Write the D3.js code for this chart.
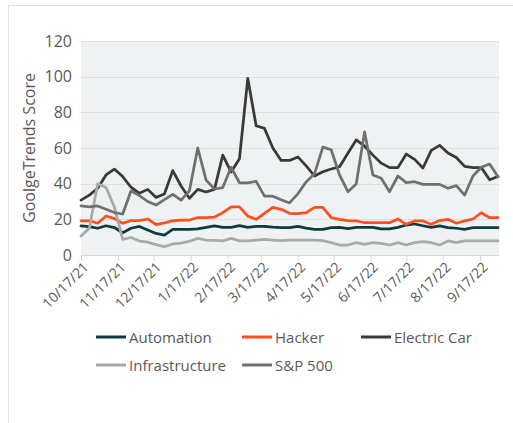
<!DOCTYPE html>
<html>
<head>
<meta charset="utf-8">
<script src="https://cdn.jsdelivr.net/npm/d3@7"></script>
<style>
  html, body { margin: 0; padding: 0; background: #ffffff; }
  svg { display: block; }
  text { font-family: "Open Sans", "Noto Sans", sans-serif; fill: #595959; }
</style>
</head>
<body>
<svg id="chart" width="513" height="423"></svg>
<script>
const weeks = [
  "2021-10-17","2021-10-24","2021-10-31","2021-11-07","2021-11-14","2021-11-21","2021-11-28",
  "2021-12-05","2021-12-12","2021-12-19","2021-12-26","2022-01-02","2022-01-09","2022-01-16",
  "2022-01-23","2022-01-30","2022-02-06","2022-02-13","2022-02-20","2022-02-27","2022-03-06",
  "2022-03-13","2022-03-20","2022-03-27","2022-04-03","2022-04-10","2022-04-17","2022-04-24",
  "2022-05-01","2022-05-08","2022-05-15","2022-05-22","2022-05-29","2022-06-05","2022-06-12",
  "2022-06-19","2022-06-26","2022-07-03","2022-07-10","2022-07-17","2022-07-24","2022-07-31",
  "2022-08-07","2022-08-14","2022-08-21","2022-08-28","2022-09-04","2022-09-11","2022-09-18",
  "2022-09-25","2022-10-02"
];

const automation = [16.3,15.9,15,16.4,15.4,12.5,15,16,14,12.1,11.2,14.4,14.4,14.4,14.6,15.5,16.3,
  15.5,15.5,16.5,15.5,16.1,16.1,15.6,15.4,15.4,16.1,15.1,14.4,14.4,15.4,15.5,14.8,15.5,15.5,
  15.5,14.6,14.6,15.5,16.8,17.4,16.4,15.5,16.3,15.3,15,14.4,15.3,15.3,15.3,15.3];

const hacker = [19.2,19.2,17.8,21.9,20.4,17.8,19.3,19.3,20.2,17,18,19.2,19.6,19.6,21,21,21.3,
  23.7,27,27,21.8,20,23.4,26.7,25.6,23.4,23.2,23.8,26.7,26.7,21,20,19.3,19.2,18.1,18.1,18.1,
  18.1,20.2,17.2,19.1,19.1,17.2,19.3,20,17.8,19.1,20.2,23.7,20.9,20.9];

const electricCar = [30.8,33.6,37.4,44.9,48.2,44,38,34.6,36.8,32.3,34.2,47.3,38.7,31.8,36.8,35.3,
  36.8,56,46.5,54,99,72.5,71,60,53,53,55,50,44.3,46.7,48.2,49.5,57,64.5,61,56,51.5,49,49,56.6,
  53.6,48.8,58.7,61.5,57.2,54.7,49.7,49,49,42.2,44];

const infrastructure = [10.6,15,40,37.8,27,8.8,9.8,7.8,7.2,5.8,4.7,6.2,6.7,7.7,9.3,8.4,8.2,7.9,
  9.3,7.9,7.9,8.4,8.8,8.4,8,8.4,8.4,8.4,8.4,8,6.9,5.6,5.6,6.9,6,6.9,6.5,5.6,6.9,5.6,6.9,7.5,
  6.9,5.6,7.9,6.9,7.9,7.9,7.9,7.9,7.9];

const sp500 = [27.5,27,27.5,25.6,23.8,23,36,33.3,30,28,31,34,30.8,36,60,42,37,37.8,49.2,40.5,
  40.5,41.3,33,33,31,29.2,34.3,41,45.5,60.5,59,44.9,35.5,39.8,69,44.9,43,35.5,44.3,40.6,41.1,
  39.6,39.6,39.6,37.4,38.9,33.6,44.3,49.2,51,43.9];

const seriesNames = ["Automation","Hacker","Electric Car","Infrastructure","S&P 500"];
const seriesColors = ["#0e3a40","#ff4f1f","#3b3937","#a9a9a9","#707070"];
const seriesValues = [automation, hacker, electricCar, infrastructure, sp500];

const tickDates = ["2021-10-17","2021-11-17","2021-12-17","2022-01-17","2022-02-17","2022-03-17",
  "2022-04-17","2022-05-17","2022-06-17","2022-07-17","2022-08-17","2022-09-17"];
const yTicks = [0,20,40,60,80,100,120];
const yTitle = "GoolgeTrends Score";

(function () {
const parse = d3.utcParse("%Y-%m-%d");
const dates = weeks.map(parse);
const tdates = tickDates.map(parse);

const svg = d3.select("#chart");

// frame lines
svg.append("line").attr("x1",8.5).attr("x2",513).attr("y1",5.5).attr("y2",5.5)
  .attr("stroke","#e2e2e2").attr("stroke-width",1);
svg.append("line").attr("x1",8.5).attr("x2",8.5).attr("y1",5.5).attr("y2",423)
  .attr("stroke","#e2e2e2").attr("stroke-width",1);

const pL = 81, pR = 499, pT = 41, pB = 255;

const x = d3.scaleUtc().domain([dates[0], dates[dates.length-1]]).range([pL, 498]);
const y = d3.scaleLinear().domain([0,120]).range([pB, pT]);

// plot background
svg.append("rect").attr("x",pL).attr("y",pT).attr("width",pR-pL).attr("height",pB-pT)
  .attr("fill","#eef2f3");

// gridlines
svg.append("g").selectAll("line").data(yTicks.filter(d => d > 0)).join("line")
  .attr("x1",pL).attr("x2",pR)
  .attr("y1",d => Math.round(y(d))+0.5).attr("y2",d => Math.round(y(d))+0.5)
  .attr("stroke","#dcdfe1").attr("stroke-width",1);

// y axis labels
const yAxis = d3.axisLeft(y).tickValues(yTicks).tickSize(0).tickPadding(9);
const yg = svg.append("g").attr("transform",`translate(${pL},0)`).call(yAxis);
yg.select(".domain").remove();
yg.selectAll("text").attr("font-size",16).style("font-family",'"Open Sans", sans-serif').attr("fill","#595959");

// x axis
const fmt = d => `${d.getUTCMonth()+1}/${d.getUTCDate()}/${String(d.getUTCFullYear()).slice(2)}`;
const xAxis = d3.axisBottom(x).tickValues(tdates).tickFormat(fmt).tickSize(6).tickSizeOuter(0);
const xg = svg.append("g").attr("transform",`translate(0,${pB})`).call(xAxis);
xg.select(".domain").attr("stroke","#d4d7d9").attr("d",`M${pL},0.5H${pR}`);
xg.selectAll(".tick line").attr("stroke","#d4d7d9");
xg.selectAll("text")
  .attr("font-size",14).style("font-family",'"Open Sans", sans-serif').attr("fill","#595959")
  .attr("text-anchor","end")
  .attr("y",0).attr("dy",0)
  .attr("transform","translate(8,13) rotate(-45)");

// y title
svg.append("text")
  .attr("transform",`translate(29,${(pT+pB)/2}) rotate(-90)`)
  .attr("text-anchor","middle").attr("dominant-baseline","central")
  .attr("font-size",16).text(yTitle);

// lines
const line = d3.line().x((d,i) => x(dates[i])).y(d => y(d));
svg.append("g").selectAll("path").data(seriesValues).join("path")
  .attr("d", d => line(d))
  .attr("fill","none")
  .attr("stroke",(d,i) => seriesColors[i])
  .attr("stroke-width",2.75)
  .attr("stroke-linejoin","round")
  .attr("stroke-linecap","round");

// legend
const legendPos = [[96,337],[242,337],[361,337],[96,365],[242,365]];
const lg = svg.append("g").selectAll("g").data(seriesNames).join("g")
  .attr("transform",(d,i) => `translate(${legendPos[i][0]},${legendPos[i][1]})`);
lg.append("line").attr("x1",0).attr("x2",30).attr("y1",0).attr("y2",0)
  .attr("stroke",(d,i) => seriesColors[i]).attr("stroke-width",3);
lg.append("text").attr("x",33).attr("y",0).attr("dominant-baseline","central")
  .attr("font-size",15).text(d => d);
})();
</script>
</body>
</html>
